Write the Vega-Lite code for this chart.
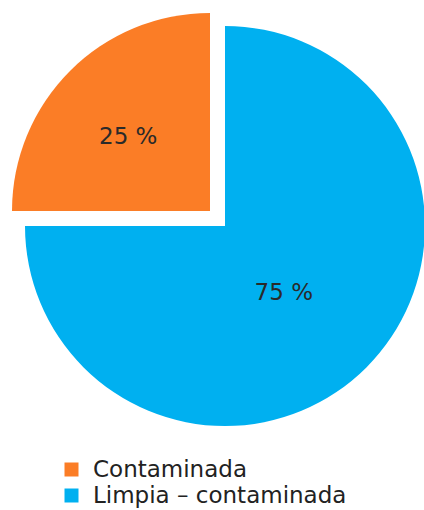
{
  "$schema": "https://vega.github.io/schema/vega-lite/v6.json",
  "width": 424,
  "height": 452,
  "padding": 0,
  "autosize": {"type": "pad"},
  "background": "white",
  "view": {"stroke": null},
  "data": {
    "values": [
      {"categoria": "Limpia – contaminada", "porcentaje": 75, "etiqueta": "75 %", "orden": 1},
      {"categoria": "Contaminada", "porcentaje": 25, "etiqueta": "25 %", "orden": 2}
    ]
  },
  "transform": [
    {"stack": "porcentaje", "groupby": [], "as": ["t0", "t1"], "sort": [{"field": "orden", "order": "ascending"}]}
  ],
  "layer": [
    {
      "transform": [{"filter": "datum.categoria === 'Limpia – contaminada'"}],
      "mark": {"type": "arc", "outerRadius": 200, "xOffset": 13, "yOffset": 0},
      "encoding": {
        "theta": {"field": "t0", "type": "quantitative", "scale": {"domain": [0, 100]}},
        "theta2": {"field": "t1"},
        "color": {
          "field": "categoria",
          "type": "nominal",
          "scale": {"domain": ["Contaminada", "Limpia – contaminada"], "range": ["#FB7D26", "#00B0F0"]},
          "legend": {
            "title": null,
            "orient": "none",
            "legendX": 60,
            "legendY": 458,
            "direction": "vertical",
            "symbolType": "square",
            "symbolSize": 196,
            "symbolStrokeWidth": 0,
            "labelFont": "DejaVu Sans",
            "labelFontSize": 23,
            "labelColor": "#222222",
            "labelOffset": 10,
            "labelLimit": 400,
            "rowPadding": 2,
            "padding": 0
          }
        }
      }
    },
    {
      "transform": [{"filter": "datum.categoria === 'Contaminada'"}],
      "mark": {"type": "arc", "outerRadius": 198, "xOffset": -2, "yOffset": -15},
      "encoding": {
        "theta": {"field": "t0", "type": "quantitative", "scale": {"domain": [0, 100]}},
        "theta2": {"field": "t1"},
        "color": {"field": "categoria", "type": "nominal"}
      }
    },
    {
      "mark": {"type": "text", "radius": 110, "xOffset": -6, "yOffset": -11, "font": "DejaVu Sans", "fontSize": 23, "color": "#2a2a2a", "align": "center", "baseline": "middle"},
      "encoding": {
        "theta": {"field": "porcentaje", "type": "quantitative", "stack": true, "scale": {"domain": [0, 100]}},
        "order": {"field": "orden", "type": "quantitative"},
        "text": {"field": "etiqueta", "type": "nominal"}
      }
    }
  ]
}
